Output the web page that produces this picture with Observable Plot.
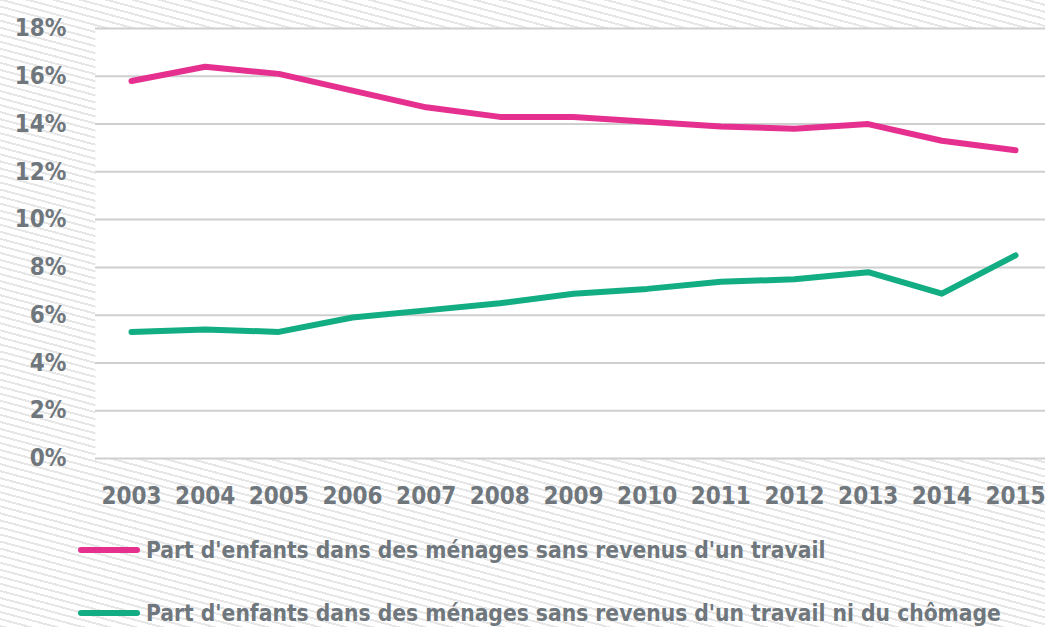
<!DOCTYPE html>
<html>
<head>
<meta charset="utf-8">
<script src="https://cdn.jsdelivr.net/npm/d3@7"></script>
<script src="https://cdn.jsdelivr.net/npm/@observablehq/plot@0.6"></script>
<style>
  html, body { margin: 0; padding: 0; }
  body {
    width: 1045px; height: 627px; overflow: hidden;
    background: repeating-linear-gradient(15deg, #e6e6e6 0px, #e6e6e6 2px, #ffffff 2px, #ffffff 6.8px);
    font-family: "DejaVu Sans Condensed", sans-serif;
    font-weight: bold;
    color: #6f777d;
  }
  #chart svg { display: block; background: transparent; }
  .legend { position: relative; height: 107px; }
  .item { position: absolute; left: 78px; display: flex; align-items: center; font-size: 22.6px; white-space: nowrap; }
  .sw { width: 62px; height: 6px; border-radius: 3px; margin-right: 6px; }
</style>
</head>
<body>
<div id="chart"></div>
<div class="legend" id="legend"></div>
<script>
const years = [2003,2004,2005,2006,2007,2008,2009,2010,2011,2012,2013,2014,2015];
const sansTravail = [15.8,16.4,16.1,15.4,14.7,14.3,14.3,14.1,13.9,13.8,14.0,13.3,12.9];
const sansTravailNiChomage = [5.3,5.4,5.3,5.9,6.2,6.5,6.9,7.1,7.4,7.5,7.8,6.9,8.5];
const seriesNames = [
  "Part d'enfants dans des ménages sans revenus d'un travail",
  "Part d'enfants dans des ménages sans revenus d'un travail ni du chômage"
];
const seriesColors = ["#e5308f", "#12ad82"];
const yTicks = [0,2,4,6,8,10,12,14,16,18];

const data = [];
years.forEach((y, i) => {
  data.push({year: y, value: sansTravail[i], s: seriesNames[0]});
  data.push({year: y, value: sansTravailNiChomage[i], s: seriesNames[1]});
});

const chart = Plot.plot({
  width: 1045,
  height: 520,
  marginTop: 28,
  marginBottom: 62,
  marginLeft: 95,
  marginRight: 0,
  style: {fontFamily: '"DejaVu Sans Condensed", sans-serif', fontWeight: "bold", fontSize: "24px", color: "#6f777d", background: "transparent"},
  x: {domain: [2003, 2015], insetLeft: 36, insetRight: 30, ticks: years, tickFormat: d => String(d), label: null},
  y: {domain: [0, 18], ticks: yTicks, tickFormat: d => d + "%", label: null},
  color: {domain: seriesNames, range: seriesColors},
  marks: [
    Plot.frame({fill: "white", stroke: null}),
    Plot.gridY(yTicks, {stroke: "#cfcfcf", strokeOpacity: 1, strokeWidth: 2}),
    Plot.axisY({ticks: yTicks, tickSize: 0, tickPadding: 29, tickFormat: d => d + "%", fill: "#6f777d", fontSize: 24, label: null}),
    Plot.axisX({ticks: years, tickSize: 0, tickPadding: 28, tickFormat: d => String(d), fill: "#6f777d", fontSize: 24, label: null}),
    Plot.line(data, {x: "year", y: "value", z: "s", stroke: "s", strokeWidth: 6, strokeLinecap: "round", strokeLinejoin: "round"})
  ]
});
document.getElementById("chart").appendChild(chart);

const legend = document.getElementById("legend");
seriesNames.forEach((name, i) => {
  const item = document.createElement("div");
  item.className = "item";
  item.style.top = (i === 0 ? 17 : 80) + "px";
  const sw = document.createElement("div");
  sw.className = "sw";
  sw.style.background = seriesColors[i];
  const t = document.createElement("span");
  t.textContent = name;
  item.appendChild(sw);
  item.appendChild(t);
  legend.appendChild(item);
});
</script>
</body>
</html>
